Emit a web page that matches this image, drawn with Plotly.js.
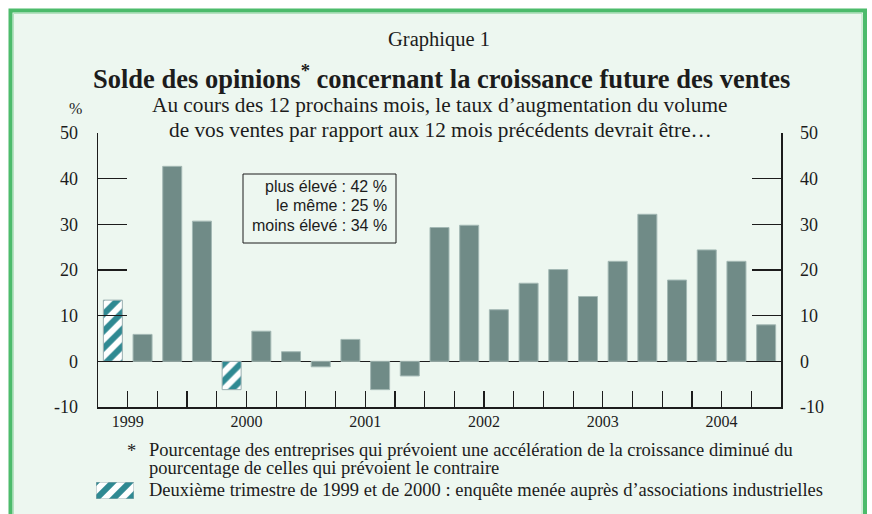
<!DOCTYPE html>
<html>
<head>
<meta charset="utf-8">
<script src="https://cdn.plot.ly/plotly-3.0.1.min.js"></script>
<style>
html,body{margin:0;padding:0;background:#fff;}
#chart{width:872px;height:514px;}
#chart .xtick text, #chart .ytick text, #chart .x2tick text, #chart .y2tick text {
  font-family: "Liberation Serif", serif !important;
}
</style>
</head>
<body>
<div id="chart"></div>
<script>
// ---- data ----
const quarters = ['1999T2','1999T3','1999T4',
  '2000T1','2000T2','2000T3','2000T4',
  '2001T1','2001T2','2001T3','2001T4',
  '2002T1','2002T2','2002T3','2002T4',
  '2003T1','2003T2','2003T3','2003T4',
  '2004T1','2004T2','2004T3','2004T4'];
const soldes = [13.4, 5.9, 42.7, 30.7,
  -6.2, 6.6, 2.1, -1.2,
  4.8, -6.2, -3.2, 29.3,
  29.8, 11.3, 17.1, 20.1,
  14.2, 21.9, 32.2, 17.8,
  24.4, 21.9, 8.0];
const hatchedQuarters = ['1999T2','2000T2'];
const years = ['1999','2000','2001','2002','2003','2004'];
const yTicks = [-10, 0, 10, 20, 30, 40, 50];
const boxLines = ['plus élevé : 42 %','le même : 25 %','moins élevé : 34 %'];
const subtitleLines = ['Au cours des 12 prochains mois, le taux d’augmentation du volume',
  'de vos ventes par rapport aux 12 mois précédents devrait être…'];
const footLines = ['Pourcentage des entreprises qui prévoient une accélération de la croissance diminué du',
  'pourcentage de celles qui prévoient le contraire'];
const hatchNote = 'Deuxième trimestre de 1999 et de 2000 : enquête menée auprès d’associations industrielles';

// ---- helpers ----
const W = 872, H = 514;
const px = v => v / W;
const py = v => 1 - v / H;
const serif = 'Liberation Serif, serif';
const sans = 'Liberation Sans, sans-serif';
const ink = '#1c1c1c';
const barGrey = '#708b87';
const teal = '#2f8992';

const xIdx = quarters.map((q, i) => i);
const isHatched = quarters.map(q => hatchedQuarters.includes(q));
const firstQ = parseInt(quarters[0].slice(5), 10);
const firstYear = parseInt(quarters[0].slice(0, 4), 10);
const q1Index = y => 4 * (parseInt(y, 10) - firstYear) - (firstQ - 1);
const yearCenters = years.map(y => q1Index(y) + 1.5);
const yearBounds = years.slice(1).map(y => q1Index(y) - 0.5);
const quarterBounds = quarters.slice(1).map((q, i) => i + 0.5);

const plainTrace = {
  type: 'bar', x: xIdx, y: soldes.map((v, i) => isHatched[i] ? null : v), width: 0.64,
  marker: {color: barGrey, line: {color: '#a3b8b4', width: 1}},
  hoverinfo: 'x+y', showlegend: false
};
const hatchTrace = {
  type: 'bar', x: xIdx, y: soldes.map((v, i) => isHatched[i] ? v : null), width: 0.64,
  marker: {color: '#ffffff', line: {color: '#9aaeb0', width: 1},
    pattern: {shape: '/', fgcolor: teal, bgcolor: '#ffffff', size: 12, solidity: 0.5}},
  hoverinfo: 'x+y', showlegend: false
};
const yearAxisTrace = {
  type: 'scatter', mode: 'markers', x: yearCenters, y: yearCenters.map(() => null),
  xaxis: 'x2', yaxis: 'y', hoverinfo: 'skip', showlegend: false
};
const rightAxisTrace = {
  type: 'scatter', mode: 'markers', x: [null], y: [null],
  xaxis: 'x', yaxis: 'y2', hoverinfo: 'skip', showlegend: false
};
const swatchTrace = {
  type: 'bar', x: [0], y: [1], width: 1, xaxis: 'x3', yaxis: 'y3',
  marker: {color: '#ffffff', line: {color: '#9aaeb0', width: 1},
    pattern: {shape: '/', fgcolor: teal, bgcolor: '#ffffff', size: 12, solidity: 0.5}},
  hoverinfo: 'skip', showlegend: false
};

const xDom = [px(98), px(781)];
const yDom = [py(407), py(133)];
const xRange = [-0.5, quarters.length - 0.5];

const axisFont = () => ({family: serif, size: 18, color: ink});
const note = (text, x, y, size, family, anchor) => ({
  text: text, xref: 'paper', yref: 'paper', x: px(x), y: py(y),
  xanchor: anchor || 'center', yanchor: 'middle', showarrow: false,
  font: {family: family || serif, size: size, color: ink}
});

const annotations = [
  note('Graphique 1', 439, 40, 20.5),
  note('<b>Solde des opinions<sup>*</sup> concernant la croissance future des ventes</b>', 441, 77, 26.5),
  note(subtitleLines[0], 440, 105, 21.3),
  note(subtitleLines[1], 440, 130, 21.3),
  note('%', 75, 108, 16),
  note('*', 131, 451, 18.5),
  note(footLines[0], 147, 450, 18.5, serif, 'left'),
  note(footLines[1], 147, 468, 18.5, serif, 'left'),
  note(hatchNote, 147, 490, 18.5, serif, 'left')
];
boxLines.forEach((t, i) => annotations.push(note(t, 389, 186 + 19.5 * i, 16, sans, 'right')));

const layout = {
  width: W, height: H,
  margin: {l: 0, r: 0, t: 0, b: 0},
  font: {family: serif, color: ink},
  paper_bgcolor: '#ffffff', plot_bgcolor: 'rgba(0,0,0,0)',
  showlegend: false, barmode: 'overlay',
  xaxis: {
    domain: xDom, range: xRange, anchor: 'y',
    showline: true, linecolor: ink, linewidth: 1.5,
    showgrid: false, zeroline: false,
    tickmode: 'array', tickvals: yearBounds, ticktext: yearBounds.map(() => ''),
    ticks: 'inside', ticklen: 33, tickwidth: 1.2, tickcolor: ink,
    minor: {tickmode: 'array', tickvals: quarterBounds, ticks: 'inside', ticklen: 16, tickwidth: 1.2, tickcolor: ink, showgrid: false},
    fixedrange: true
  },
  xaxis2: {
    domain: xDom, range: xRange, anchor: 'y', overlaying: 'x', side: 'bottom',
    showline: false, showgrid: false, zeroline: false,
    tickmode: 'array', tickvals: yearCenters, ticktext: years, ticks: '',
    tickfont: {family: serif, size: 16, color: ink}, ticklabelstandoff: 3, fixedrange: true
  },
  yaxis: {
    domain: yDom, range: [-10, 50], anchor: 'x',
    showline: true, linecolor: ink, linewidth: 1.5,
    showgrid: false, zeroline: true, zerolinecolor: ink, zerolinewidth: 1.5,
    tickmode: 'array', tickvals: yTicks, ticktext: yTicks.map(String),
    ticks: 'inside', ticklen: 29, tickwidth: 1.2, tickcolor: ink,
    tickfont: axisFont(), ticklabelstandoff: 15, fixedrange: true
  },
  yaxis2: {
    domain: yDom, range: [-10, 50], anchor: 'x', overlaying: 'y', side: 'right',
    showline: true, linecolor: ink, linewidth: 1.5,
    showgrid: false, zeroline: false,
    tickmode: 'array', tickvals: yTicks, ticktext: yTicks.map(String),
    ticks: 'inside', ticklen: 29, tickwidth: 1.2, tickcolor: ink,
    tickfont: axisFont(), ticklabelstandoff: 14, fixedrange: true
  },
  xaxis3: {domain: [px(96), px(134)], range: [-0.5, 0.5], anchor: 'y3', visible: false, fixedrange: true},
  yaxis3: {domain: [py(499), py(482)], range: [0, 1], anchor: 'x3', visible: false, fixedrange: true},
  shapes: [
    {type: 'rect', xref: 'paper', yref: 'paper', layer: 'below',
     x0: px(10.5), x1: px(865), y0: py(10.5), y1: py(530),
     fillcolor: '#edf7f0', line: {color: '#4cbb6b', width: 4}},
    {type: 'rect', xref: 'paper', yref: 'paper', layer: 'below',
     x0: px(13.5), x1: px(862), y0: py(13.5), y1: py(530),
     fillcolor: 'rgba(0,0,0,0)', line: {color: '#b5e2c0', width: 1}},
    {type: 'rect', xref: 'paper', yref: 'paper', layer: 'above',
     x0: px(243), x1: px(396), y0: py(243), y1: py(174),
     fillcolor: 'rgba(0,0,0,0)', line: {color: ink, width: 1}}
  ],
  annotations: annotations
};

Plotly.newPlot('chart', [plainTrace, hatchTrace, yearAxisTrace, rightAxisTrace, swatchTrace], layout, {displayModeBar: false, staticPlot: true});
</script>
</body>
</html>
